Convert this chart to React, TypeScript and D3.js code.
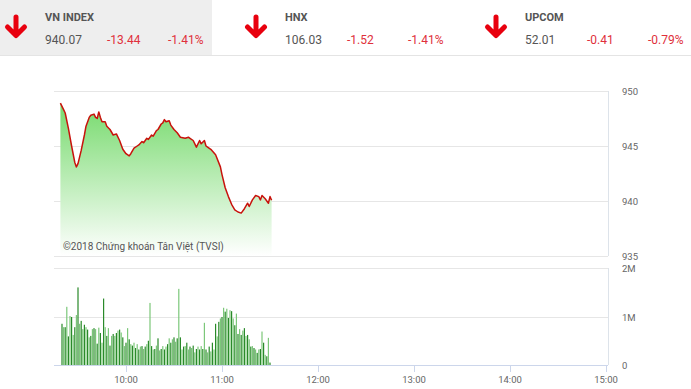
import React, { useRef, useEffect } from 'react';
import * as d3 from 'd3';

// header quotes
const indexNames = ['VN INDEX', 'HNX', 'UPCOM'];
const indexValues = ['940.07', '106.03', '52.01'];
const indexChanges = ['-13.44', '-1.52', '-0.41'];
const indexPercents = ['-1.41%', '-1.41%', '-0.79%'];

// price line: minutes after 9:00, index value
const priceMinutes = [19, 21, 22, 24, 26, 28, 29, 30, 32, 34, 35, 37, 38, 40, 41, 42, 43, 44, 45, 47, 48, 50, 52, 54, 56, 58, 60, 62, 63, 65, 67, 68, 70, 71, 73, 74, 76, 77, 79, 80, 82, 83, 84, 85, 87, 88, 90, 92, 94, 97, 99, 100, 102, 104, 106, 107, 109, 110, 111, 113, 116, 119, 120, 122, 124, 126, 128, 130, 132, 134, 136, 137, 139, 141, 143, 144, 145, 147, 149, 150, 151];
const priceValues = [948.9, 948.3, 948.0, 946.6, 945.0, 943.5, 943.1, 943.4, 944.6, 946.0, 946.8, 947.6, 947.8, 947.9, 947.6, 947.5, 948.1, 947.6, 947.2, 947.2, 946.8, 946.5, 946.0, 946.1, 945.5, 944.7, 944.3, 944.1, 944.3, 944.8, 945.0, 945.1, 945.4, 945.3, 945.7, 945.6, 946.0, 945.9, 946.4, 946.5, 947.0, 947.1, 947.4, 947.2, 947.3, 946.9, 946.5, 946.2, 945.8, 945.7, 945.8, 945.7, 945.5, 944.9, 945.5, 945.2, 945.5, 945.0, 944.9, 944.7, 944.2, 943.1, 942.4, 941.2, 940.4, 939.7, 939.2, 939.0, 938.9, 939.3, 939.8, 939.5, 940.1, 940.5, 940.4, 940.1, 940.5, 940.2, 939.8, 940.4, 940.07];

// volume per minute (millions), starting 9:20
const volumeStart = 20;
const volumes = [
  0.85, 0.78, 0.78, 1.2, 0.59, 1.01, 0.99, 0.62, 0.78, 1.03,
  1.6, 0.85, 0.91, 0.74, 0.83, 0.78, 0.73, 0.57, 0.6, 0.74,
  0.76, 0.74, 0.44, 0.77, 0.66, 0.46, 1.37, 0.78, 0.6, 0.76,
  0.4, 0.6, 0.64, 0.6, 0.66, 0.71, 0.73, 0.67, 0.57, 0.39,
  0.46, 0.76, 0.53, 0.43, 0.4, 0.46, 0.35, 0.43, 0.32, 0.38,
  0.39, 0.33, 0.38, 0.43, 0.5, 1.28, 0.39, 0.32, 0.33, 0.4,
  0.55, 0.3, 0.33, 0.39, 0.32, 0.38, 0.43, 0.55, 0.46, 0.53,
  0.57, 0.48, 0.55, 1.57, 0.57, 0.32, 0.38, 0.39, 0.46, 0.32,
  0.38, 0.35, 0.4, 0.26, 0.33, 0.38, 0.32, 0.39, 0.33, 0.87,
  0.32, 0.26, 0.38, 0.28, 0.46, 0.32, 0.85, 0.59, 0.89, 0.96,
  0.99, 1.18, 1.1, 1.16, 0.97, 1.13, 1.11, 0.96, 0.82, 1.06,
  0.64, 0.74, 0.62, 0.71, 0.76, 0.6, 0.62, 0.53, 0.38, 0.39,
  0.35, 0.32, 0.25, 0.32, 0.33, 0.69, 0.46, 0.21, 0.18, 0.56,
  0.05
];

const priceTicks = [950, 945, 940, 935];
const volumeTicks = [2, 1, 0];
const volumeTickLabels = ['2M', '1M', '0'];
const timeTicks = [60, 120, 180, 240, 300, 360];
const timeTickLabels = ['10:00', '11:00', '12:00', '13:00', '14:00', '15:00'];

const App = () => {
  const ref = useRef<SVGSVGElement>(null);

  useEffect(() => {
    const width = 691;
    const height = 389;
    const left = 54, right = 608;
    const labelFont = 'Roboto, sans-serif';

    const svg = d3.select(ref.current)
      .attr('width', width)
      .attr('height', height);
    svg.selectAll('*').remove();

    // header
    svg.append('rect').attr('x', 0).attr('y', 0).attr('width', 212).attr('height', 55).attr('fill', '#eeeeee');
    svg.append('line').attr('x1', 0).attr('x2', width).attr('y1', 55.5).attr('y2', 55.5)
      .attr('stroke', '#e4e4e4');

    const blocks = svg.append('g').selectAll('g')
      .data(indexNames)
      .join('g')
      .attr('transform', (d, i) => `translate(${i * 240},0)`);

    blocks.append('path')
      .attr('d', 'M16,17V35M7.5,27L16,35.5L24.5,27')
      .attr('fill', 'none')
      .attr('stroke', '#e8000e')
      .attr('stroke-width', 5)
      .attr('stroke-linecap', 'round')
      .attr('stroke-linejoin', 'round');

    blocks.append('text')
      .attr('x', 45).attr('y', 21)
      .attr('font-family', labelFont).attr('font-weight', 'bold').attr('font-size', 11)
      .attr('fill', '#555').text(d => d);
    blocks.append('text')
      .attr('x', 45).attr('y', 44)
      .attr('font-family', labelFont).attr('font-size', 12)
      .attr('fill', '#555').text((d, i) => indexValues[i]);
    blocks.append('text')
      .attr('x', 107).attr('y', 44)
      .attr('font-family', labelFont).attr('font-size', 12)
      .attr('fill', '#e0303b').text((d, i) => indexChanges[i]);
    blocks.append('text')
      .attr('x', 168).attr('y', 44)
      .attr('font-family', labelFont).attr('font-size', 12)
      .attr('fill', '#e0303b').text((d, i) => indexPercents[i]);

    // scales
    const x = d3.scaleLinear().domain([15, 360]).range([left, 606]);
    const y = d3.scaleLinear().domain([935, 950]).range([256, 91]);
    const yv = d3.scaleLinear().domain([0, 2]).range([365, 268]);

    const grid = '#e6e6e6';

    // price panel grid
    svg.append('g').selectAll('line')
      .data(priceTicks)
      .join('line')
      .attr('x1', left).attr('x2', right)
      .attr('y1', d => Math.round(y(d)) + 0.5).attr('y2', d => Math.round(y(d)) + 0.5)
      .attr('stroke', grid);
    svg.append('line').attr('x1', right + 0.5).attr('x2', right + 0.5).attr('y1', 91).attr('y2', 256)
      .attr('stroke', '#dde3ea');

    svg.append('g').selectAll('text')
      .data(priceTicks)
      .join('text')
      .attr('x', 622).attr('y', d => y(d) + 4)
      .attr('font-family', labelFont).attr('font-size', 9.5)
      .attr('fill', '#666').text(d => d);

    // gradient for area
    const defs = svg.append('defs');
    const grad = defs.append('linearGradient')
      .attr('id', 'areaFill')
      .attr('gradientUnits', 'userSpaceOnUse')
      .attr('x1', 0).attr('x2', 0).attr('y1', 95).attr('y2', 256);
    grad.append('stop').attr('offset', 0).attr('stop-color', '#6fd865');
    grad.append('stop').attr('offset', 1).attr('stop-color', '#ffffff');

    const points = priceMinutes.map((m, i) => [m, priceValues[i]]);

    const area = d3.area<number[]>()
      .x(d => x(d[0]))
      .y0(y(935))
      .y1(d => y(d[1]));
    svg.append('path').datum(points).attr('d', area).attr('fill', 'url(#areaFill)');

    const line = d3.line<number[]>()
      .x(d => x(d[0]))
      .y(d => y(d[1]));
    svg.append('path').datum(points).attr('d', line)
      .attr('fill', 'none').attr('stroke', '#c8120c').attr('stroke-width', 1.5)
      .attr('stroke-linejoin', 'round');

    svg.append('text')
      .attr('x', 63).attr('y', 250)
      .attr('font-family', labelFont).attr('font-size', 10)
      .attr('fill', '#555')
      .text('©2018 Chứng khoán Tân Việt (TVSI)');

    // volume panel
    svg.append('g').selectAll('line')
      .data(volumeTicks.slice(0, 2))
      .join('line')
      .attr('x1', left).attr('x2', right)
      .attr('y1', d => Math.round(yv(d)) + 0.5).attr('y2', d => Math.round(yv(d)) + 0.5)
      .attr('stroke', grid);
    svg.append('line').attr('x1', right + 0.5).attr('x2', right + 0.5).attr('y1', 268).attr('y2', 365)
      .attr('stroke', '#dde3ea');

    svg.append('g').selectAll('text')
      .data(volumeTicks)
      .join('text')
      .attr('x', 622).attr('y', d => yv(d) + 4)
      .attr('font-family', labelFont).attr('font-size', 9.5)
      .attr('fill', '#666').text((d, i) => volumeTickLabels[i]);

    svg.append('g').selectAll('rect')
      .data(volumes)
      .join('rect')
      .attr('x', (d, i) => x(volumeStart + i) - 0.6)
      .attr('width', 1.2)
      .attr('y', d => yv(d))
      .attr('height', d => yv(0) - yv(d))
      .attr('fill', (d, i) => (i % 2 === 0 ? '#2a8a2a' : '#7cc77a'));

    // time axis
    svg.append('line').attr('x1', left).attr('x2', right).attr('y1', 365.5).attr('y2', 365.5)
      .attr('stroke', '#ccd6eb');
    const xAxis = svg.append('g');
    xAxis.selectAll('line')
      .data(timeTicks)
      .join('line')
      .attr('x1', d => Math.round(x(d)) + 0.5).attr('x2', d => Math.round(x(d)) + 0.5)
      .attr('y1', 366).attr('y2', 372)
      .attr('stroke', '#ccd6eb');
    xAxis.selectAll('text')
      .data(timeTicks)
      .join('text')
      .attr('x', d => x(d)).attr('y', 383)
      .attr('text-anchor', 'middle')
      .attr('font-family', labelFont).attr('font-size', 9.5)
      .attr('fill', '#666').text((d, i) => timeTickLabels[i]);
  }, []);

  return (
    <svg ref={ref} style={{ position: 'absolute', left: 0, top: 0, display: 'block' }}>
    </svg>
  );
};

export default App;
